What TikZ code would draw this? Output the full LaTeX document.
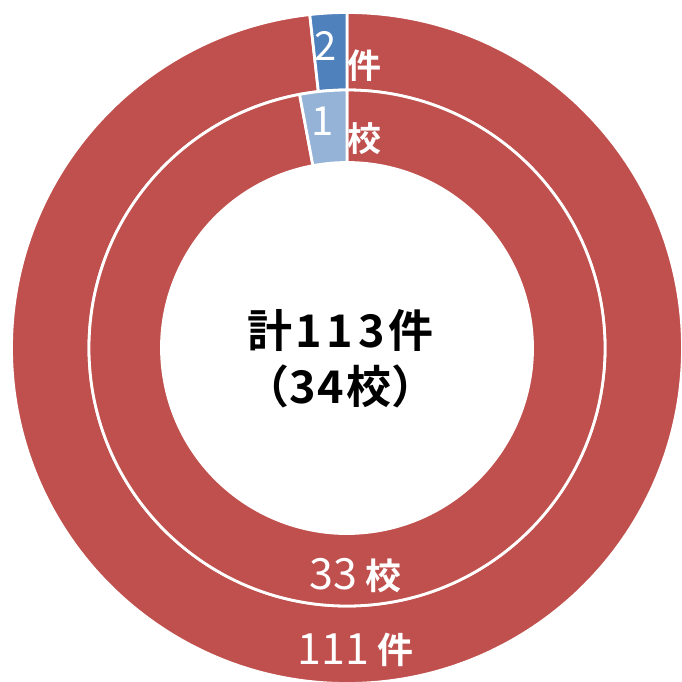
\documentclass[tikz,border=0pt]{standalone}
\usepackage{fontspec}
\newfontfamily\jp[BoldFont={Noto Sans CJK JP Bold}]{Noto Sans CJK JP}
\definecolor{ringred}{HTML}{C0504D}
\definecolor{ringblue}{HTML}{4F81BD}
\definecolor{ringlight}{HTML}{95B3D7}
\begin{document}
\begin{tikzpicture}[x=1pt,y=1pt,
  seg/.style={draw=white,line width=2.8pt,line join=miter},
  numlbl/.style={text=white,inner sep=0pt,font=\jp\fontsize{#1}{#1}\selectfont},
  unitlbl/.style={text=white,inner sep=0pt,font=\jp\bfseries\fontsize{#1}{#1}\selectfont},
  centerlbl/.style={text=black,inner sep=0pt,align=center,font=\jp\bfseries\fontsize{45}{56}\selectfont}]
\useasboundingbox (0,0) rectangle (682,681);
\fill[white] (0,0) rectangle (682,681);
\coordinate (C) at (347,333);
\def\annseg#1#2#3#4#5{\filldraw[seg,fill=#1] ([shift={(#2:#4)}]C) arc[start angle=#2,end angle=#3,radius=#4] -- ([shift={(#3:#5)}]C) arc[start angle=#3,end angle=#2,radius=#5] -- cycle;}
% outer ring: 111 + 2
\annseg{ringred}{90}{-263.63}{335.5}{258}
\annseg{ringblue}{90}{96.37}{335.5}{258}
% inner ring: 33 + 1
\annseg{ringred}{90}{-259.41}{258}{185.5}
\annseg{ringlight}{90}{100.59}{258}{185.5}
% labels
\node[numlbl=40] (n2) at (326,635) {2};
\node[unitlbl=34] (u2) at (364,615) {件};
\node[numlbl=40] (n1) at (323,560) {1};
\node[unitlbl=34] (u1) at (364.5,542) {校};
\node[numlbl=43] (n33) at (333.5,107) {33};
\node[unitlbl=36] (u33) at (383.5,105) {校};
\node[numlbl=43] (n111) at (333.5,32) {111};
\node[unitlbl=36] (u111) at (395.5,31) {件};
\node[centerlbl] (total) at (340.5,322) {計\kern3pt 1\kern5pt 1\kern5pt 3\kern4pt 件\\（3\kern2pt 4\kern2pt 校）};
\end{tikzpicture}
\end{document}
